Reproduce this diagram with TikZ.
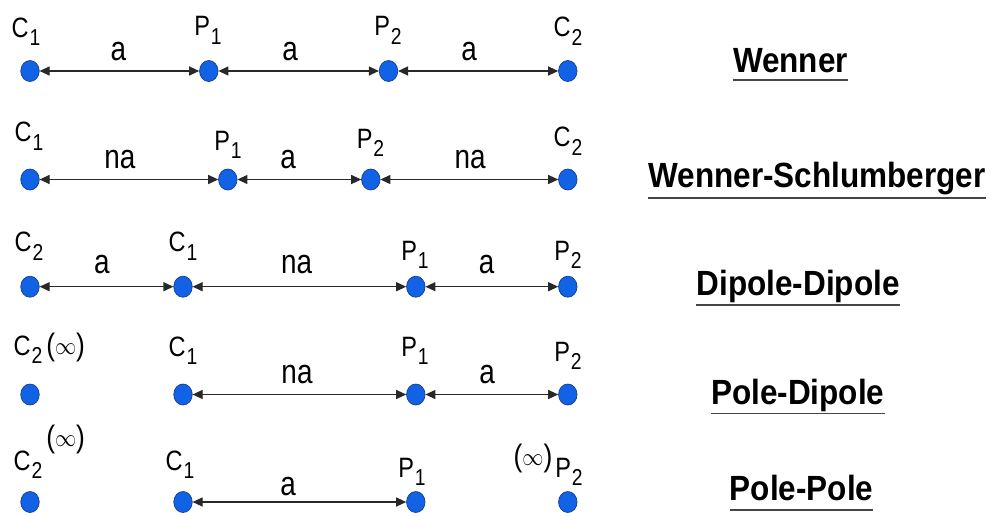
\documentclass[tikz,border=0pt]{standalone}
\usepackage{fontspec}
\setmainfont{Liberation Sans}
\usetikzlibrary{shapes.geometric,arrows.meta}
\definecolor{dotblue}{RGB}{18,98,230}
\definecolor{dotedge}{RGB}{20,60,150}
\definecolor{arrcol}{RGB}{40,40,40}
\definecolor{ulcol}{RGB}{70,70,70}
\newcommand{\el}[2]{\scalebox{0.84}[1]{#1\kern1pt\raisebox{-8.5pt}{\fontsize{23}{23}\selectfont #2}}}
\newcommand{\infsym}{\raisebox{1pt}{\fontsize{31}{31}\selectfont$\infty$}}
\newcommand{\pinf}{\scalebox{0.85}[1]{\fontsize{31}{31}\selectfont(\infsym)}}
\newcommand{\dl}[1]{\scalebox{0.82}[1]{#1}}
\newcommand{\tl}[1]{\scalebox{0.9}[1]{#1}}
\begin{document}
\begin{tikzpicture}[x=1pt,y=-1pt,
  elec/.style={ellipse,fill=dotblue,draw=dotedge,line width=0.7pt,minimum width=18.5pt,minimum height=21pt,inner sep=0pt},
  elab/.style={anchor=base,inner sep=0pt,font=\fontsize{28}{28}\selectfont},
  dist/.style={anchor=base,inner sep=0pt,font=\fontsize{34}{34}\selectfont},
  ttl/.style={anchor=base,inner sep=0pt,font=\fontsize{35}{35}\selectfont\bfseries},
  uline/.style={draw=ulcol,line width=1.8pt},
  arr/.style={draw=arrcol,line width=1.2pt,{Triangle[length=10pt,width=9pt]}-{Triangle[length=10pt,width=9pt]}}]
\fill[white] (0,0) rectangle (992,515);
\useasboundingbox (0,0) rectangle (992,515);

% ---------- Row 1: Wenner ----------
\node[elec] (a1) at (30,71) {};
\node[elec] (a2) at (208.8,71) {};
\node[elec] (a3) at (388.5,71) {};
\node[elec] (a4) at (567.8,71) {};
\node[elab] (la1) at (26,37) {\el{C}{1}};
\node[elab] (la2) at (208,35.5) {\el{P}{1}};
\node[elab] (la3) at (388,35.5) {\el{P}{2}};
\node[elab] (la4) at (568,36.5) {\el{C}{2}};
\draw[arr] (a1) -- (a2);
\draw[arr] (a2) -- (a3);
\draw[arr] (a3) -- (a4);
\node[dist] (da1) at (118.5,60.7) {\dl{a}};
\node[dist] (da2) at (290,60.7) {\dl{a}};
\node[dist] (da3) at (469,60.7) {\dl{a}};
\node[ttl] (t1) at (790.5,72.3) {\tl{Wenner}};
\draw[uline] ([yshift=-7.5pt]t1.base west) -- ([yshift=-7.5pt]t1.base east);

% ---------- Row 2: Wenner-Schlumberger ----------
\node[elec] (b1) at (30,179.5) {};
\node[elec] (b2) at (227.8,179.5) {};
\node[elec] (b3) at (370.8,179.5) {};
\node[elec] (b4) at (567.8,179.5) {};
\node[elab] (lb1) at (29,141.7) {\el{C}{1}};
\node[elab] (lb2) at (228,150) {\el{P}{1}};
\node[elab] (lb3) at (370.5,148.3) {\el{P}{2}};
\node[elab] (lb4) at (568,146.7) {\el{C}{2}};
\draw[arr] (b1) -- (b2);
\draw[arr] (b2) -- (b3);
\draw[arr] (b3) -- (b4);
\node[dist] (db1) at (120,168) {\dl{na}};
\node[dist] (db2) at (288,168) {\dl{a}};
\node[dist] (db3) at (470,168) {\dl{na}};
\node[ttl] (t2) at (817,187.7) {\tl{Wenner-Schlumberger}};
\draw[uline] ([yshift=-10pt]t2.base west) -- ([yshift=-10pt]t2.base east);

% ---------- Row 3: Dipole-Dipole ----------
\node[elec] (c1) at (30,286.7) {};
\node[elec] (c2) at (183,286.7) {};
\node[elec] (c3) at (415.8,286.7) {};
\node[elec] (c4) at (567.8,286.7) {};
\node[elab] (lc1) at (29,251.7) {\el{C}{2}};
\node[elab] (lc2) at (183,251.7) {\el{C}{1}};
\node[elab] (lc3) at (415,260) {\el{P}{1}};
\node[elab] (lc4) at (568,260) {\el{P}{2}};
\draw[arr] (c1) -- (c2);
\draw[arr] (c2) -- (c3);
\draw[arr] (c3) -- (c4);
\node[dist] (dc1) at (102,273.3) {\dl{a}};
\node[dist] (dc2) at (296.7,273.3) {\dl{na}};
\node[dist] (dc3) at (486.7,273.3) {\dl{a}};
\node[ttl] (t3) at (798,295) {\tl{Dipole-Dipole}};
\draw[uline] ([yshift=-10pt]t3.base west) -- ([yshift=-10pt]t3.base east);

% ---------- Row 4: Pole-Dipole ----------
\node[elec] (d1) at (30,394.5) {};
\node[elec] (d2) at (183,394.5) {};
\node[elec] (d3) at (415.8,394.5) {};
\node[elec] (d4) at (567.8,394.5) {};
\node[elab] (ld1) at (28,355) {\el{C}{2}\rlap{\kern4pt\pinf}};
\node[elab] (ld2) at (183,356) {\el{C}{1}};
\node[elab] (ld3) at (415,356) {\el{P}{1}};
\node[elab] (ld4) at (568,361) {\el{P}{2}};
\draw[arr] (d2) -- (d3);
\draw[arr] (d3) -- (d4);
\node[dist] (dd1) at (297,383.3) {\dl{na}};
\node[dist] (dd2) at (487,383.3) {\dl{a}};
\node[ttl] (t4) at (797.8,404) {\tl{Pole-Dipole}};
\draw[uline] ([yshift=-9.5pt]t4.base west) -- ([yshift=-9.5pt]t4.base east);

% ---------- Row 5: Pole-Pole ----------
\node[elec] (e1) at (30,502) {};
\node[elec] (e2) at (183,502) {};
\node[elec] (e3) at (415.8,502) {};
\node[elec] (e4) at (567.8,502) {};
\node[elab] (le1) at (28,470) {\el{C}{2}\rlap{\kern4pt\raisebox{23pt}{\pinf}}};
\node[elab] (le2) at (180,470) {\el{C}{1}};
\node[elab] (le3) at (412,477) {\el{P}{1}};
\node[elab] (le4) at (569,477) {\llap{\raisebox{11pt}{\pinf}\kern3pt}\el{P}{2}};
\draw[arr] (e2) -- (e3);
\node[dist] (de1) at (288,495) {\dl{a}};
\node[ttl] (t5) at (801.5,500.7) {\tl{Pole-Pole}};
\draw[uline] ([yshift=-9.5pt]t5.base west) -- ([yshift=-9.5pt]t5.base east);
\end{tikzpicture}
\end{document}
